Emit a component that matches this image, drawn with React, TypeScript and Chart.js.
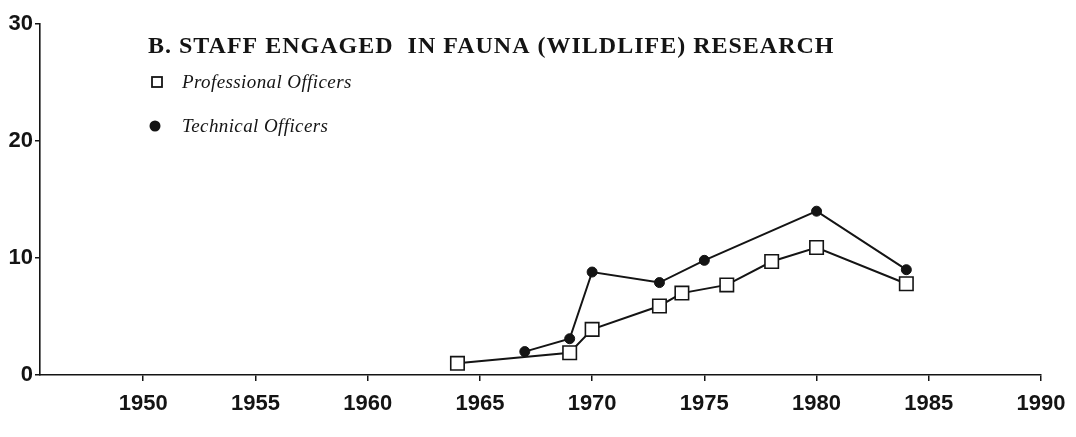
import React, { useEffect, useRef } from "react";
import { Chart, registerables } from "chart.js";

Chart.register(...registerables);

const chartTitle = "B. STAFF ENGAGED  IN FAUNA (WILDLIFE) RESEARCH";
const xTickYears = [1950, 1955, 1960, 1965, 1970, 1975, 1980, 1985, 1990];
const yTickValues = [0, 10, 20, 30];

const professionalLabel = "Professional Officers";
const professionalYears = [1964, 1969, 1970, 1973, 1974, 1976, 1978, 1980, 1984];
const professionalValues = [1.0, 1.9, 3.9, 5.9, 7.0, 7.7, 9.7, 10.9, 7.8];

const technicalLabel = "Technical Officers";
const technicalYears = [1967, 1969, 1970, 1973, 1975, 1980, 1984];
const technicalValues = [2.0, 3.1, 8.8, 7.9, 9.8, 14.0, 9.0];

const INK = "#141414";

const annotationPlugin = {
  id: "scanAnnotations",
  afterDraw(chart: any) {
    const ctx = chart.ctx;
    ctx.save();
    ctx.fillStyle = INK;
    ctx.strokeStyle = INK;
    ctx.textBaseline = "middle";
    ctx.textAlign = "left";
    ctx.font = "bold 24px 'Liberation Serif', 'Times New Roman', serif";
    (ctx as any).letterSpacing = "1px";
    ctx.fillText(chartTitle, 148, 47);

    // legend
    const ds = chart.data.datasets;
    ctx.font = "italic 19px 'Liberation Serif', 'Times New Roman', serif";
    (ctx as any).letterSpacing = "0.4px";
    // professional square
    ctx.lineWidth = 1.8;
    ctx.fillStyle = "#ffffff";
    ctx.fillRect(152, 77, 10, 10);
    ctx.strokeRect(152, 77, 10, 10);
    ctx.fillStyle = INK;
    ctx.fillText(ds[0].label, 182, 83);
    // technical circle
    ctx.beginPath();
    ctx.arc(155, 126, 5.5, 0, Math.PI * 2);
    ctx.fill();
    ctx.fillText(ds[1].label, 182, 127);
    (ctx as any).letterSpacing = "0px";
    ctx.restore();
  },
};

export default function App() {
  const canvasRef = useRef<HTMLCanvasElement | null>(null);

  useEffect(() => {
    document.body.style.margin = "0";
    const canvas = canvasRef.current;
    if (!canvas) return;

    const profData = professionalYears.map((x, i) => ({ x, y: professionalValues[i] }));
    const techData = technicalYears.map((x, i) => ({ x, y: technicalValues[i] }));

    const tickFont = { family: "'Liberation Sans', Arial, sans-serif", size: 22, weight: "bold" as const };

    const chart = new Chart(canvas, {
      type: "line",
      data: {
        datasets: [
          {
            label: professionalLabel,
            data: profData,
            borderColor: INK,
            borderWidth: 2,
            pointStyle: "rect",
            pointRadius: 9.5,
            pointBackgroundColor: "#ffffff",
            pointBorderColor: INK,
            pointBorderWidth: 1.6,
            tension: 0,
            fill: false,
          },
          {
            label: technicalLabel,
            data: techData,
            borderColor: INK,
            borderWidth: 2,
            pointStyle: "circle",
            pointRadius: 5,
            pointBackgroundColor: INK,
            pointBorderColor: INK,
            pointBorderWidth: 1,
            tension: 0,
            fill: false,
          },
        ],
      },
      options: {
        responsive: false,
        animation: false,
        layout: { padding: { top: 24, right: 35, left: 0, bottom: 0 } },
        plugins: {
          legend: { display: false },
          title: { display: false },
          tooltip: { enabled: false },
        },
        scales: {
          x: {
            type: "linear",
            min: 1945.4,
            max: 1990,
            afterBuildTicks: (scale: any) => {
              scale.ticks = xTickYears.map((v) => ({ value: v }));
            },
            afterFit: (scale: any) => {
              scale.height = 62;
            },
            grid: {
              display: true,
              drawOnChartArea: false,
              drawTicks: true,
              tickLength: 6,
              color: INK,
              lineWidth: 1.5,
            },
            border: { display: true, color: INK, width: 1.6 },
            ticks: {
              color: INK,
              font: tickFont,
              padding: 10,
              maxRotation: 0,
              autoSkip: false,
              callback: (v: any) => String(v),
            },
          },
          y: {
            type: "linear",
            min: 0,
            max: 30,
            afterBuildTicks: (scale: any) => {
              scale.ticks = yTickValues.map((v) => ({ value: v }));
            },
            afterFit: (scale: any) => {
              scale.width = 40;
            },
            grid: {
              display: true,
              drawOnChartArea: false,
              drawTicks: true,
              tickLength: 5,
              color: INK,
              lineWidth: 1.5,
            },
            border: { display: true, color: INK, width: 1.6 },
            ticks: {
              color: INK,
              font: tickFont,
              padding: 2,
              callback: (v: any) => String(v),
            },
          },
        },
      },
      plugins: [annotationPlugin],
    });

    return () => chart.destroy();
  }, []);

  return (
    <div style={{ width: 1076, height: 437, background: "#ffffff" }}>
      <canvas ref={canvasRef} width={1076} height={437} style={{ display: "block" }} />
    </div>
  );
}
